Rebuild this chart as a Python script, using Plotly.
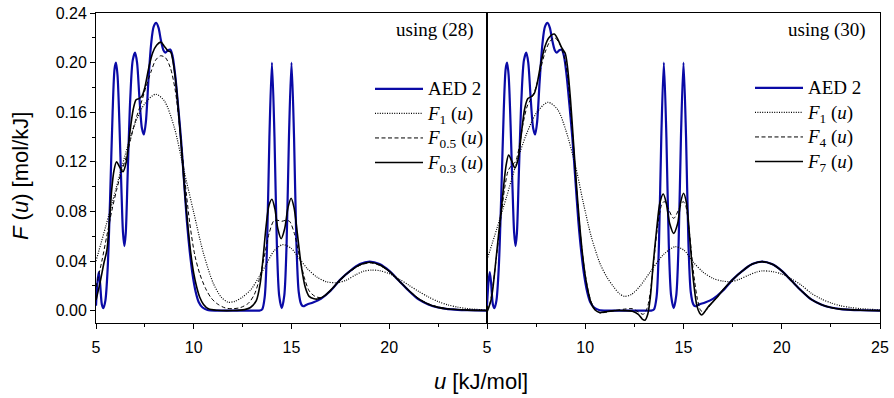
import plotly.graph_objects as go

# ---------------- data ----------------
aed2_u = [5.0, 5.07, 5.14, 5.21, 5.3, 5.38, 5.48, 5.6, 5.72, 5.85, 5.95, 6.02, 6.1, 6.2, 6.3, 6.38, 6.45, 6.52,
          6.62, 6.75, 6.88, 7.0, 7.1, 7.22, 7.35, 7.45, 7.55, 7.68, 7.82, 7.95, 8.08, 8.2, 8.32, 8.45, 8.55,
          8.68, 8.8, 8.92, 9.05, 9.2, 9.35, 9.5, 9.65, 9.8, 9.95, 10.1, 10.25, 10.45, 10.7, 11.2, 12.2, 13.0,
          13.35, 13.5, 13.63, 13.75, 13.87, 14.0, 14.13, 14.25, 14.37, 14.5, 14.63, 14.75, 14.87, 15.0, 15.13,
          15.25, 15.37, 15.5, 15.6, 15.8, 16.1, 16.5, 17.0, 17.5, 18.0, 18.5, 19.0, 19.5, 20.0, 20.5, 21.0,
          21.5, 22.0, 22.5, 23.0, 23.5, 24.0, 25.0]
aed2_F = [0.004, 0.022, 0.031, 0.022, 0.005, 0.002, 0.008, 0.035, 0.09, 0.16, 0.195, 0.2, 0.19, 0.15, 0.098,
          0.063, 0.052, 0.062, 0.11, 0.17, 0.202, 0.208, 0.2, 0.172, 0.147, 0.142, 0.152, 0.185, 0.215, 0.229,
          0.232, 0.228, 0.218, 0.21, 0.208, 0.21, 0.2105, 0.205, 0.19, 0.165, 0.138, 0.105, 0.072, 0.047,
          0.028, 0.015, 0.007, 0.0025, 0.0005, 0.0, 0.0, 0.0, 0.0, 0.001, 0.011, 0.053, 0.14, 0.2, 0.14, 0.054,
          0.012, 0.002, 0.012, 0.054, 0.14, 0.2, 0.14, 0.055, 0.015, 0.005, 0.0035, 0.005, 0.0065, 0.0095,
          0.016, 0.025, 0.032, 0.0375, 0.0395, 0.0375, 0.032, 0.024, 0.016, 0.009, 0.005, 0.0025, 0.0012,
          0.0006, 0.0003, 0.0]

# left panel ("using (28)")
f1a_u = [5.0, 5.5, 6.0, 6.5, 7.0, 7.5, 8.05, 8.5, 9.0, 9.5, 10.0, 10.5, 11.0, 11.4, 11.75, 12.1, 12.5, 12.9,
         13.3, 13.7, 14.1, 14.55, 15.0, 15.4, 15.8, 16.3, 16.8, 17.3, 17.8, 18.3, 18.7, 19.1, 19.5, 20.0,
         20.5, 21.0, 21.5, 22.0, 22.5, 23.0, 23.5, 24.0, 25.0]
f1a_F = [0.04, 0.068, 0.097, 0.126, 0.151, 0.167, 0.1745, 0.169, 0.148, 0.113, 0.079, 0.046, 0.022, 0.011,
         0.0068, 0.0075, 0.011, 0.0165, 0.026, 0.037, 0.048, 0.0532, 0.05, 0.042, 0.034, 0.027, 0.0232,
         0.0225, 0.0245, 0.029, 0.0318, 0.0327, 0.0322, 0.0298, 0.0255, 0.0205, 0.0155, 0.011, 0.0073,
         0.0046, 0.0028, 0.0016, 0.0005]

f05_u = [5.0, 5.3, 5.55, 5.8, 6.05, 6.3, 6.55, 6.8, 7.05, 7.3, 7.55, 7.8, 8.05, 8.3, 8.55, 8.8, 9.05, 9.3,
         9.55, 9.8, 10.05, 10.3, 10.6, 10.9, 11.2, 11.6, 12.0, 12.4, 12.8, 13.1, 13.35, 13.6, 13.85, 14.1,
         14.3, 14.5, 14.7, 14.9, 15.15, 15.4, 15.65, 15.9, 16.2, 16.5, 16.8, 17.1, 17.5, 18.0, 18.5, 19.0,
         19.5, 20.0, 20.5, 21.0, 21.5, 22.0, 22.5, 23.0, 24.0, 25.0]
f05_F = [0.019, 0.04, 0.06, 0.08, 0.097, 0.112, 0.124, 0.14, 0.155, 0.167, 0.18, 0.192, 0.202, 0.2055,
         0.204, 0.196, 0.178, 0.145, 0.105, 0.07, 0.045, 0.03, 0.018, 0.01, 0.0055, 0.0022, 0.0015, 0.0025,
         0.006, 0.013, 0.025, 0.043, 0.062, 0.0725, 0.0728, 0.072, 0.0728, 0.072, 0.062, 0.044, 0.027, 0.016,
         0.0115, 0.0105, 0.013, 0.0175, 0.0245, 0.0315, 0.0365, 0.0385, 0.0365, 0.0315, 0.024, 0.0165,
         0.0098, 0.0055, 0.003, 0.0015, 0.0005, 0.0002]

f03_u = [5.0, 5.2, 5.4, 5.56, 5.7, 5.8, 5.92, 6.05, 6.2, 6.38, 6.55, 6.72, 6.9, 7.05, 7.2, 7.35, 7.5, 7.7, 7.9,
         8.1, 8.32, 8.5, 8.68, 8.82, 8.95, 9.1, 9.25, 9.4, 9.55, 9.7, 9.85, 10.0, 10.15, 10.3, 10.5, 10.75,
         11.2, 12.0, 12.6, 12.9, 13.2, 13.4, 13.55, 13.7, 13.85, 14.0, 14.15, 14.3, 14.47, 14.65, 14.82,
         14.98, 15.13, 15.3, 15.5, 15.7, 15.9, 16.15, 16.4, 16.7, 17.0, 17.5, 18.0, 18.5, 19.0, 19.5, 20.0,
         20.5, 21.0, 21.5, 22.0, 22.5, 23.0, 24.0, 25.0]
f03_F = [0.0085, 0.022, 0.038, 0.049, 0.075, 0.097, 0.113, 0.12, 0.116, 0.112, 0.12, 0.142, 0.162, 0.17,
         0.171, 0.173, 0.18, 0.196, 0.208, 0.214, 0.2165, 0.213, 0.2095, 0.2085, 0.2, 0.182, 0.155, 0.125,
         0.094, 0.068, 0.046, 0.03, 0.019, 0.011, 0.005, 0.0015, 0.0003, 0.0001, 0.0008, 0.0025, 0.008,
         0.022, 0.043, 0.068, 0.085, 0.0898, 0.082, 0.066, 0.058, 0.066, 0.083, 0.0906, 0.083, 0.062, 0.036,
         0.019, 0.0115, 0.0095, 0.0095, 0.012, 0.0165, 0.025, 0.032, 0.037, 0.039, 0.037, 0.0318, 0.024,
         0.0162, 0.0095, 0.0052, 0.0026, 0.0013, 0.0004, 0.0001]

# right panel ("using (30)")
f1b_u = [5.0, 5.5, 6.0, 6.5, 7.0, 7.5, 8.1, 8.6, 9.0, 9.5, 9.9, 10.3, 10.75, 11.1, 11.45, 11.75, 12.0, 12.35,
         12.8, 13.3, 13.97, 14.57, 15.0, 15.5, 16.0, 16.5, 17.0, 17.4, 17.8, 18.3, 18.7, 19.0, 19.5, 20.0,
         20.5, 21.0, 21.5, 22.0, 22.5, 23.0, 23.5, 24.0, 25.0]
f1b_F = [0.041, 0.066, 0.092, 0.119, 0.142, 0.159, 0.168, 0.162, 0.146, 0.117, 0.087, 0.06, 0.038, 0.027,
         0.019, 0.0135, 0.0115, 0.013, 0.02, 0.031, 0.045, 0.0515, 0.049, 0.039, 0.031, 0.026, 0.0238, 0.0233,
         0.025, 0.0285, 0.031, 0.032, 0.0315, 0.0295, 0.0255, 0.0205, 0.014, 0.0095, 0.0062, 0.0039, 0.0025,
         0.0016, 0.0006]

f4_u = [5.0, 5.15, 5.3, 5.5, 5.7, 5.9, 6.08, 6.25, 6.45, 6.65, 6.85, 7.05, 7.25, 7.45, 7.7, 7.95, 8.2, 8.45,
        8.7, 8.92, 9.1, 9.25, 9.4, 9.55, 9.7, 9.85, 10.0, 10.15, 10.3, 10.5, 10.75, 11.0, 11.5, 12.0, 12.4,
        12.7, 12.95, 13.15, 13.32, 13.5, 13.7, 13.88, 14.02, 14.2, 14.5, 14.8, 14.98, 15.12, 15.3, 15.5,
        15.7, 15.88, 16.05, 16.25, 16.45, 16.7, 17.0, 17.5, 18.0, 18.5, 19.0, 19.5, 20.0, 20.5, 21.0, 21.5,
        22.0, 22.5, 23.0, 24.0, 25.0]
f4_F = [0.0, 0.006, 0.02, 0.046, 0.074, 0.099, 0.113, 0.117, 0.12, 0.133, 0.152, 0.165, 0.171, 0.178, 0.193,
        0.208, 0.217, 0.22, 0.215, 0.205, 0.19, 0.163, 0.132, 0.1, 0.071, 0.047, 0.029, 0.016, 0.007, 0.001,
        -0.002, -0.0015, 0.0, 0.0012, 0.0015, -0.001, -0.003, 0.002, 0.016, 0.042, 0.07, 0.085, 0.088, 0.083,
        0.0744, 0.083, 0.088, 0.084, 0.063, 0.032, 0.01, 0.0, -0.001, 0.002, 0.006, 0.0105, 0.0165, 0.025,
        0.032, 0.0373, 0.0393, 0.0373, 0.032, 0.024, 0.016, 0.009, 0.005, 0.0025, 0.0012, 0.0003, 0.0]

f7_u = [5.0, 5.1, 5.2, 5.3, 5.45, 5.6, 5.75, 5.87, 5.98, 6.1, 6.25, 6.42, 6.58, 6.75, 6.92, 7.08, 7.25, 7.4,
        7.55, 7.75, 7.95, 8.15, 8.42, 8.6, 8.8, 8.98, 9.1, 9.25, 9.4, 9.55, 9.7, 9.85, 10.0, 10.15, 10.3,
        10.5, 10.75, 11.0, 11.5, 12.0, 12.4, 12.7, 12.9, 13.04, 13.18, 13.32, 13.46, 13.63, 13.8, 13.97,
        14.12, 14.3, 14.5, 14.7, 14.85, 15.0, 15.15, 15.32, 15.5, 15.68, 15.82, 15.93, 16.08, 16.25, 16.43,
        16.7, 17.0, 17.5, 18.0, 18.5, 19.0, 19.5, 20.0, 20.5, 21.0, 21.5, 22.0, 22.5, 23.0, 24.0, 25.0]
f7_F = [-0.001, 0.003, 0.008, 0.018, 0.04, 0.063, 0.085, 0.104, 0.118, 0.1255, 0.121, 0.115, 0.122, 0.143,
        0.163, 0.171, 0.1725, 0.175, 0.183, 0.2, 0.213, 0.22, 0.223, 0.219, 0.212, 0.2075, 0.196, 0.17, 0.136,
        0.102, 0.072, 0.047, 0.028, 0.015, 0.006, 0.0005, -0.0015, -0.001, 0.0, 0.0, -0.0005, -0.003, -0.0068,
        -0.0078, -0.003, 0.012, 0.038, 0.065, 0.087, 0.094, 0.087, 0.07, 0.0623, 0.07, 0.087, 0.0946, 0.087,
        0.058, 0.0247, 0.004, -0.002, -0.0035, -0.001, 0.003, 0.006, 0.0105, 0.0165, 0.025, 0.032, 0.0375,
        0.0395, 0.0375, 0.032, 0.024, 0.016, 0.009, 0.005, 0.0025, 0.0012, 0.0003, 0.0]

x_major_left = [5, 10, 15, 20]
x_major_right = [5, 10, 15, 20, 25]
x_minor = [7.5, 12.5, 17.5, 22.5]
y_major = [0.00, 0.04, 0.08, 0.12, 0.16, 0.20, 0.24]
y_minor = [0.02, 0.06, 0.10, 0.14, 0.18, 0.22]

legend_left = ["AED 2", "<i>F</i><sub>1</sub> (<i>u</i>)", "<i>F</i><sub>0.5</sub> (<i>u</i>)",
               "<i>F</i><sub>0.3</sub> (<i>u</i>)"]
legend_right = ["AED 2", "<i>F</i><sub>1</sub> (<i>u</i>)", "<i>F</i><sub>4</sub> (<i>u</i>)",
                "<i>F</i><sub>7</sub> (<i>u</i>)"]

# ---------------- styles ----------------
BLUE = "#0a0aa6"
blue_line = dict(color=BLUE, width=2.2, shape="spline", smoothing=0.8)
dot_line = dict(color="black", width=1.2, dash="1px,1.4px", shape="spline", smoothing=0.8)
dash_line = dict(color="black", width=1, dash="4px,2.5px", shape="spline", smoothing=0.8)
solid_line = dict(color="black", width=1.6, shape="spline", smoothing=0.8)


def big(txt):
    return '<span style="font-size:19px">' + txt + '</span>'


fig = go.Figure()

left = [(aed2_u, aed2_F, blue_line), (f1a_u, f1a_F, dot_line), (f05_u, f05_F, dash_line),
        (f03_u, f03_F, solid_line)]
right = [(aed2_u, aed2_F, blue_line), (f1b_u, f1b_F, dot_line), (f4_u, f4_F, dash_line),
         (f7_u, f7_F, solid_line)]

for (u, F, ln), name in zip(left, legend_left):
    fig.add_trace(go.Scatter(x=u, y=F, mode="lines", line=ln, name=big(name), xaxis="x", yaxis="y",
                             legend="legend"))
for (u, F, ln), name in zip(right, legend_right):
    fig.add_trace(go.Scatter(x=u, y=F, mode="lines", line=ln, name=big(name), xaxis="x2", yaxis="y2",
                             legend="legend2"))

SPLIT = 391 / 784
tickfont = dict(family="Liberation Sans, Arial, sans-serif", size=16, color="black")
common_x = dict(range=[5, 25], showline=True, linecolor="black", linewidth=1, mirror=True,
                ticks="outside", ticklen=5, tickwidth=1, tickcolor="black", showgrid=False,
                zeroline=False, tickfont=tickfont, fixedrange=True, automargin=False,
                ticklabelstandoff=5,
                minor=dict(tickvals=x_minor, ticks="outside", ticklen=3, tickcolor="black", showgrid=False))
leg_font = dict(family="Liberation Serif, Times New Roman, serif", size=16.6, color="black")
note_font = dict(family="Liberation Serif, Times New Roman, serif", size=19, color="black")
title_font = dict(family="Liberation Sans, Arial, sans-serif", size=22, color="black")

fig.update_layout(
    template="none",
    width=894, height=398,
    margin=dict(l=96, r=14, t=13, b=75, autoexpand=False),
    paper_bgcolor="white", plot_bgcolor="white",
    showlegend=True,
    xaxis=dict(domain=[0, SPLIT], tickmode="array", tickvals=x_major_left,
               ticktext=[str(v) for v in x_major_left], anchor="y", **common_x),
    xaxis2=dict(domain=[SPLIT, 1], tickmode="array", tickvals=x_major_right,
                ticktext=[str(v) for v in x_major_right], anchor="y2", **common_x),
    yaxis=dict(range=[-0.01, 0.24], tickmode="array", tickvals=y_major,
               ticktext=[f"{v:.2f}" for v in y_major], showline=True, linecolor="black", linewidth=1,
               mirror=True, ticks="outside", ticklen=5, tickcolor="black", showgrid=False, zeroline=False,
               tickfont=tickfont, anchor="x", automargin=False, fixedrange=True,
               minor=dict(tickvals=y_minor, ticks="outside", ticklen=3, tickcolor="black", showgrid=False)),
    yaxis2=dict(range=[-0.01, 0.24], showline=True, linecolor="black", linewidth=1, mirror=True,
                ticks="", showticklabels=False, showgrid=False, zeroline=False, anchor="x2",
                automargin=False, fixedrange=True),
    legend=dict(x=(370 - 96) / 784, y=(323 - 71.5) / 310, xanchor="left", yanchor="top",
                bgcolor="rgba(0,0,0,0)", borderwidth=0, font=leg_font, itemwidth=48,
                tracegroupgap=0),
    legend2=dict(x=(750 - 96) / 784, y=(323 - 70.5) / 310, xanchor="left", yanchor="top",
                 bgcolor="rgba(0,0,0,0)", borderwidth=0, font=leg_font, itemwidth=48,
                 tracegroupgap=0),
    annotations=[
        dict(text="using (28)", xref="paper", yref="paper", x=(476 - 96) / 784, y=(323 - 29.5) / 310,
             xanchor="right", yanchor="middle", showarrow=False, font=note_font),
        dict(text="using (30)", xref="paper", yref="paper", x=(868 - 96) / 784, y=(323 - 29.5) / 310,
             xanchor="right", yanchor="middle", showarrow=False, font=note_font),
        dict(text="<i>F</i> (<i>u</i>) [mol/kJ]", xref="paper", yref="paper", x=(20 - 96) / 784,
             y=(323 - 176) / 310, xanchor="center", yanchor="middle", textangle=-90, showarrow=False,
             font=title_font),
        dict(text="<i>u</i> [kJ/mol]", xref="paper", yref="paper", x=(481 - 96) / 784,
             y=(323 - 381) / 310, xanchor="center", yanchor="middle", showarrow=False,
             font=title_font),
    ],
)

fig.write_html("out.html", config={"displayModeBar": False},
               post_script="document.body.style.margin='0';document.body.style.padding='0';"
                           "document.documentElement.style.overflow='hidden';")
